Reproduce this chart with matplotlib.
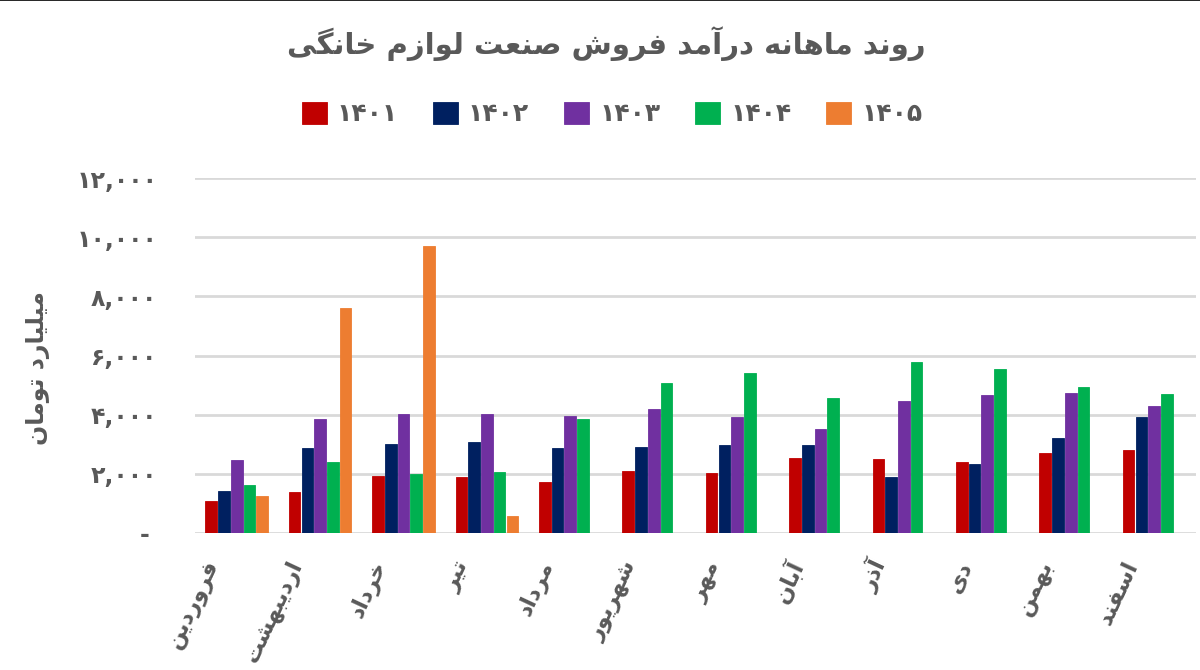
import numpy as np
import matplotlib
matplotlib.use("Agg")
from matplotlib import pyplot as plt
from matplotlib.lines import Line2D
from matplotlib.transforms import ScaledTranslation

# داده ها (میلیارد تومان)
months = ["فروردین", "اردیبهشت", "خرداد", "تیر", "مرداد", "شهریور",
          "مهر", "آبان", "آذر", "دی", "بهمن", "اسفند"]
years = ["۱۴۰۱", "۱۴۰۲", "۱۴۰۳", "۱۴۰۴", "۱۴۰۵"]
v1401 = [1090, 1390, 1930, 1900, 1710, 2100, 2040, 2540, 2510, 2400, 2710, 2810]
v1402 = [1430, 2880, 3010, 3080, 2880, 2910, 2980, 2980, 1900, 2340, 3210, 3920]
v1403 = [2470, 3860, 4020, 4020, 3960, 4190, 3920, 3520, 4460, 4660, 4730, 4290]
v1404 = [1630, 2400, 2000, 2070, 3860, 5070, 5410, 4560, 5780, 5540, 4930, 4700]
v1405 = [1260, 7600, 9720, 580, np.nan, np.nan, np.nan, np.nan, np.nan, np.nan, np.nan, np.nan]
colors = ["#C00000", "#002060", "#7030A0", "#00B050", "#ED7D31"]
yticks = [0, 2000, 4000, 6000, 8000, 10000, 12000]
ytick_labels = ["- ", "۲,۰۰۰", "۴,۰۰۰", "۶,۰۰۰", "۸,۰۰۰", "۱۰,۰۰۰", "۱۲,۰۰۰"]
title = "روند ماهانه درآمد فروش صنعت لوازم خانگی"
ylabel = "میلیارد تومان"

# شکل های چسبان حروف فارسی: (تنها، پایانی، آغازی، میانی)
FORMS = {
    "ا": ("\uFE8D", "\uFE8E", None, None),
    "آ": ("\uFE81", "\uFE82", None, None),
    "د": ("\uFEA9", "\uFEAA", None, None),
    "ذ": ("\uFEAB", "\uFEAC", None, None),
    "ر": ("\uFEAD", "\uFEAE", None, None),
    "ز": ("\uFEAF", "\uFEB0", None, None),
    "و": ("\uFEED", "\uFEEE", None, None),
    "ب": ("\uFE8F", "\uFE90", "\uFE91", "\uFE92"),
    "ت": ("\uFE95", "\uFE96", "\uFE97", "\uFE98"),
    "خ": ("\uFEA5", "\uFEA6", "\uFEA7", "\uFEA8"),
    "س": ("\uFEB1", "\uFEB2", "\uFEB3", "\uFEB4"),
    "ش": ("\uFEB5", "\uFEB6", "\uFEB7", "\uFEB8"),
    "ص": ("\uFEB9", "\uFEBA", "\uFEBB", "\uFEBC"),
    "ع": ("\uFEC9", "\uFECA", "\uFECB", "\uFECC"),
    "ف": ("\uFED1", "\uFED2", "\uFED3", "\uFED4"),
    "ل": ("\uFEDD", "\uFEDE", "\uFEDF", "\uFEE0"),
    "م": ("\uFEE1", "\uFEE2", "\uFEE3", "\uFEE4"),
    "ن": ("\uFEE5", "\uFEE6", "\uFEE7", "\uFEE8"),
    "ه": ("\uFEE9", "\uFEEA", "\uFEEB", "\uFEEC"),
    "ی": ("\uFBFC", "\uFBFD", "\uFBFE", "\uFBFF"),
    "گ": ("\uFB92", "\uFB93", "\uFB94", "\uFB95"),
}


def fa(text):
    """چسباندن حروف و راست به چپ کردن متن برای matplotlib"""
    out = []
    for i, ch in enumerate(text):
        if ch not in FORMS:
            out.append(ch)
            continue
        prev = text[i - 1] if i > 0 else ""
        nxt = text[i + 1] if i + 1 < len(text) else ""
        join_prev = prev in FORMS and FORMS[prev][2] is not None
        join_next = FORMS[ch][2] is not None and nxt in FORMS
        iso, fin, ini, med = FORMS[ch]
        if join_prev and join_next:
            out.append(med)
        elif join_prev:
            out.append(fin)
        elif join_next:
            out.append(ini)
        else:
            out.append(iso)
    return "".join(out)[::-1]


plt.rcParams["font.family"] = ["DejaVu Sans"]
text_color = "#595959"

fig = plt.figure(figsize=(12, 6.7), dpi=100)
ax = fig.add_axes([0.1625, 0.2045, 0.834, 0.5295])

series = [v1401, v1402, v1403, v1404, v1405]
x = np.arange(len(months))
step = 0.153
for i, (vals, c, yr) in enumerate(zip(series, colors, years)):
    ax.bar(x + (i - 2) * step, vals, width=0.14, color=c, label=yr,
           edgecolor=c, linewidth=0.6, zorder=3)

ax.set_xlim(-0.5, 11.5)
ax.set_ylim(0, 12000)
ax.set_yticks(yticks)
ax.set_yticklabels(ytick_labels, fontsize=17, color=text_color, fontweight="bold")
ax.yaxis.grid(True, color="#D9D9D9", linewidth=2, zorder=0)
ax.set_axisbelow(True)
ax.tick_params(axis="y", length=0, pad=27)
ax.tick_params(axis="x", length=0, pad=22)
for s in ax.spines.values():
    s.set_visible(False)

ax.set_xticks(x)
ax.set_xticklabels([fa(m) for m in months], rotation=65, ha="right",
                   va="bottom", rotation_mode="anchor", fontsize=16,
                   color=text_color, fontweight="bold")
shift = ScaledTranslation(-9 / 72, -2 / 72, fig.dpi_scale_trans)
for lbl in ax.get_xticklabels():
    lbl.set_transform(lbl.get_transform() + shift)

ax.set_ylabel(fa(ylabel), fontsize=17, color=text_color, fontweight="bold")
ax.yaxis.set_label_coords(-0.145, 0.465)

fig.suptitle(fa(title), x=0.505, y=0.935, fontsize=21, color=text_color,
             fontweight="bold", va="center")

fig.legend(loc="center", bbox_to_anchor=(0.51, 0.83), ncol=5, frameon=False,
           labelcolor=text_color, handlelength=1.0,
           handleheight=1.0, columnspacing=1.4, handletextpad=0.4,
           prop={"weight": "bold", "size": 18})

# خط باریک بالای تصویر
fig.add_artist(Line2D([0, 1], [0.9993, 0.9993], transform=fig.transFigure,
                      color="black", linewidth=1.2))

fig.savefig("out.png", dpi=100)
